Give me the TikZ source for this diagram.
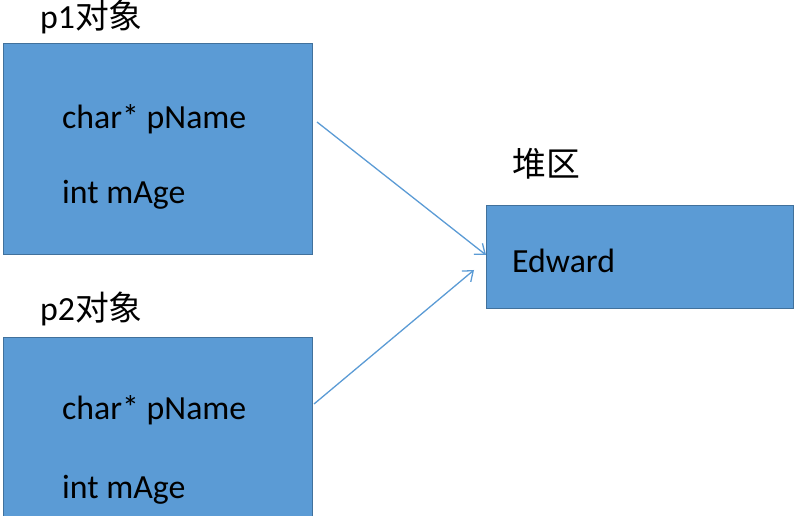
\documentclass[tikz,border=0pt]{standalone}
\usepackage{fontspec}
\setmainfont{Carlito}
\newfontfamily\cjk{Noto Sans CJK SC}
\usetikzlibrary{arrows.meta}
\definecolor{boxfill}{HTML}{5B9BD5}
\definecolor{boxline}{HTML}{41719C}
\definecolor{arrowc}{HTML}{5B9BD5}
\tikzset{
  memblock/.style={draw=boxline, line width=1bp, fill=boxfill},
  txt/.style={anchor=base west, inner sep=0pt, font=\fontsize{33.8bp}{36bp}\selectfont},
  ptr/.style={draw=arrowc, line width=1.3bp, -{Straight Barb[length=9bp,width=14bp]}}
}
\begin{document}
\begin{tikzpicture}[x=1bp,y=-1bp]
\useasboundingbox (0,0) rectangle (803,516);
\path[memblock] (3,44) rectangle (312,255);
\path[memblock] (3,337) rectangle (312,530);
\path[memblock] (486,206) rectangle (793,308);
\node[txt] (t1) at (40,29) {p1{\cjk 对象}};
\node[txt] (a1) at (62,129) {char* pName};
\node[txt] (b1) at (62,204) {int mAge};
\node[txt] (t2) at (40,321) {p2{\cjk 对象}};
\node[txt] (a2) at (62,419) {char* pName};
\node[txt] (b2) at (62,498) {int mAge};
\node[txt] (th) at (512,177) {\cjk 堆区};
\node[txt] (ed) at (512,273) {Edward};
\coordinate (s1) at (317,122);
\coordinate (e1) at (486,255);
\coordinate (s2) at (314,404);
\coordinate (e2) at (474,270);
\draw[ptr] (s1) -- (e1);
\draw[ptr] (s2) -- (e2);
\end{tikzpicture}
\end{document}
